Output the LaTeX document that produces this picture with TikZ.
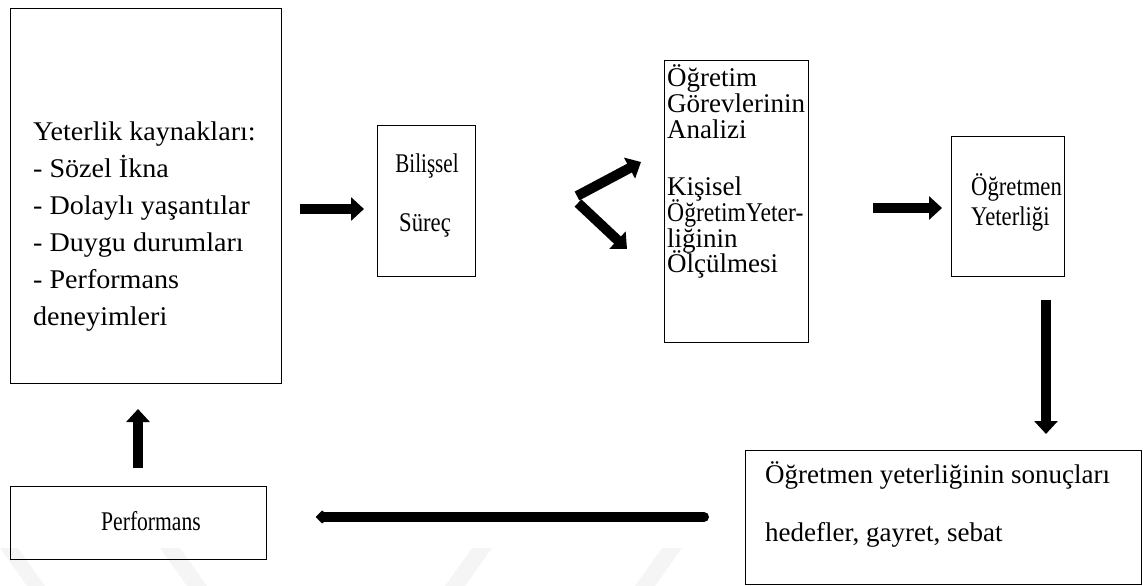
\documentclass[tikz,border=0pt]{standalone}
\usepackage{graphicx}
\usepackage{fontspec}
\setmainfont{Liberation Serif}
\usetikzlibrary{arrows.meta}
% horizontally condensed / widened text
\newcommand{\hsq}[2]{\scalebox{#1}[1]{#2}}
\begin{document}
\begin{tikzpicture}[x=1pt,y=-1pt,
  box/.style={draw, line width=1pt, inner sep=0pt, anchor=north west},
  txt/.style={anchor=base west, inner sep=0pt, font=\fontsize{27}{27}\selectfont},
  ctxt/.style={anchor=base, inner sep=0pt, font=\fontsize{27}{27}\selectfont},
  blockarrow/.style={line width=10pt, -{Triangle[width=23pt,length=13pt]}},
  longarrow/.style={line width=10pt, line cap=round, -{Triangle[width=15pt,length=8pt,round]}}
]
\useasboundingbox (0,0) rectangle (1143,586);

% faint background logo strips along the bottom edge
\fill[black!4] (0,548) -- (18,548) -- (45,586) -- (27,586) -- cycle;
\fill[black!4] (160,548) -- (180,548) -- (207,586) -- (187,586) -- cycle;
\fill[black!4] (445,586) -- (472,548) -- (492,548) -- (465,586) -- cycle;
\fill[black!4] (635,586) -- (662,548) -- (682,548) -- (655,586) -- cycle;

% boxes
\node[box, minimum width=271pt, minimum height=375pt] (src) at (10,8) {};
\node[box, minimum width=98pt, minimum height=151pt] (bil) at (377,125) {};
\node[box, minimum width=144pt, minimum height=282pt] (ana) at (664,60) {};
\node[box, minimum width=113pt, minimum height=140pt] (yet) at (951,136) {};
\node[box, minimum width=396pt, minimum height=134pt] (son) at (745,450) {};
\node[box, minimum width=256pt, minimum height=73pt] (perf) at (10,486) {};

% texts of the sources box
\node[txt] (s1) at (33,140) {\hsq{1.04}{Yeterlik kaynakları:}};
\node[txt] (s2) at (33,177) {\hsq{1.04}{- Sözel İkna}};
\node[txt] (s3) at (33,214) {\hsq{1.04}{- Dolaylı yaşantılar}};
\node[txt] (s4) at (33,251) {\hsq{1.04}{- Duygu durumları}};
\node[txt] (s5) at (33,288) {\hsq{1.04}{- Performans}};
\node[txt] (s6) at (33,325) {\hsq{1.04}{deneyimleri}};

% cognitive process
\node[ctxt] (b1) at (427,172) {\hsq{0.78}{Bilişsel}};
\node[ctxt] (b2) at (425,231) {\hsq{0.84}{Süreç}};

% analysis box
\node[txt] (a1) at (667,86) {Öğretim};
\node[txt] (a2) at (667,112) {Görevlerinin};
\node[txt] (a3) at (667,138) {Analizi};
\node[txt] (a4) at (667,195) {Kişisel};
\node[txt] (a5) at (667,221) {\hsq{0.875}{ÖğretimYeter-}};
\node[txt] (a6) at (667,247) {liğinin};
\node[txt] (a7) at (667,272) {Ölçülmesi};

% teacher efficacy
\node[txt] (y1) at (971,195) {\hsq{0.84}{Öğretmen}};
\node[txt] (y2) at (971,225) {\hsq{0.84}{Yeterliği}};

% outcomes
\node[txt] (o1) at (765,483) {Öğretmen yeterliğinin sonuçları};
\node[txt] (o2) at (765,541) {hedefler, gayret, sebat};

% performance
\node[ctxt] (p1) at (151,530) {\hsq{0.8}{Performans}};

% arrow end points
\coordinate (a1s) at (300,209);
\coordinate (a1e) at (364,209);
\coordinate (fork1) at (577,196);
\coordinate (up) at (641,162);
\coordinate (fork2) at (578,203);
\coordinate (down) at (627,249);
\coordinate (a4s) at (873,208);
\coordinate (a4e) at (942,208);
\coordinate (a5s) at (1046,300);
\coordinate (a5e) at (1046,434);
\coordinate (a6s) at (138,468);
\coordinate (a6e) at (138,409);
\coordinate (a7s) at (704,517);
\coordinate (a7e) at (316,517);

\draw[blockarrow] (a1s) -- (a1e);
\draw[blockarrow] (fork1) -- (up);
\draw[blockarrow] (fork2) -- (down);
\draw[blockarrow] (a4s) -- (a4e);
\draw[blockarrow] (a5s) -- (a5e);
\draw[blockarrow] (a6s) -- (a6e);
\draw[longarrow] (a7s) -- (a7e);
\end{tikzpicture}
\end{document}
